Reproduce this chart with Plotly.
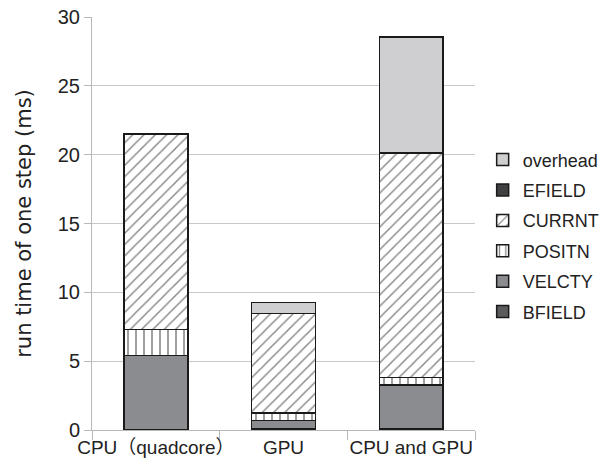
import plotly.graph_objects as go

categories = ["CPU（quadcore）", "GPU", "CPU and GPU"]
bfield = [0.0, 0.08, 0.08]
velcty = [5.4, 0.6, 3.2]
positn = [1.9, 0.55, 0.55]
currnt = [14.2, 7.25, 16.3]
efield = [0.0, 0.0, 0.0]
overhead = [0.0, 0.8, 8.4]

series = [
    ("BFIELD", bfield, dict(color="#5c5c5e")),
    ("VELCTY", velcty, dict(color="#8b8c8f")),
    ("POSITN", positn, dict(color="white", pattern=dict(shape="|", fgcolor="#111", bgcolor="white", size=8, solidity=0.2))),
    ("CURRNT", currnt, dict(color="white", pattern=dict(shape="/", fgcolor="#111", bgcolor="white", size=8, solidity=0.18))),
    ("EFIELD", efield, dict(color="#404042")),
    ("overhead", overhead, dict(color="#cfcfd1")),
]

fig = go.Figure()
n = len(series)
for i, (name, vals, mk) in enumerate(series):
    mk = dict(mk)
    mk["line"] = dict(color="#1a1a1a", width=1.5)
    fig.add_trace(go.Bar(x=categories, y=vals, name=name, marker=mk, width=0.5,
                         legendgroup=name, legendrank=n - i))

fig.update_layout(
    barmode="stack",
    width=610, height=475,
    margin=dict(l=92, r=135, t=17, b=45, autoexpand=False),
    plot_bgcolor="white", paper_bgcolor="white",
    font=dict(family="Liberation Sans, Arial, Noto Sans CJK SC", size=18, color="#222"),
    legend=dict(traceorder="grouped", x=1.02, y=0.47, yanchor="middle", xanchor="left",
                font=dict(size=18), itemwidth=30, tracegroupgap=4),
    showlegend=True,
)
fig.update_yaxes(range=[0, 30], dtick=5, showgrid=True, gridcolor="#c8c8c8", gridwidth=1,
                 showline=True, linecolor="#b8b8b8", ticks="outside", ticklen=7, tickcolor="#b8b8b8",
                 title=dict(text="run time of one step (ms)",
                            font=dict(size=21, family="DejaVu Sans"), standoff=20),
                 tickfont=dict(size=20), zeroline=False, automargin=False, ticklabeloverflow="allow")
fig.update_xaxes(showline=True, linecolor="#b8b8b8", ticks="outside", ticklen=9, tickcolor="#b8b8b8",
                 tickson="boundaries", tickfont=dict(size=19), tickangle=0, automargin=False)
fig.write_html("out.html", config={"displayModeBar": False},
               post_script="document.body.style.margin='0';")
